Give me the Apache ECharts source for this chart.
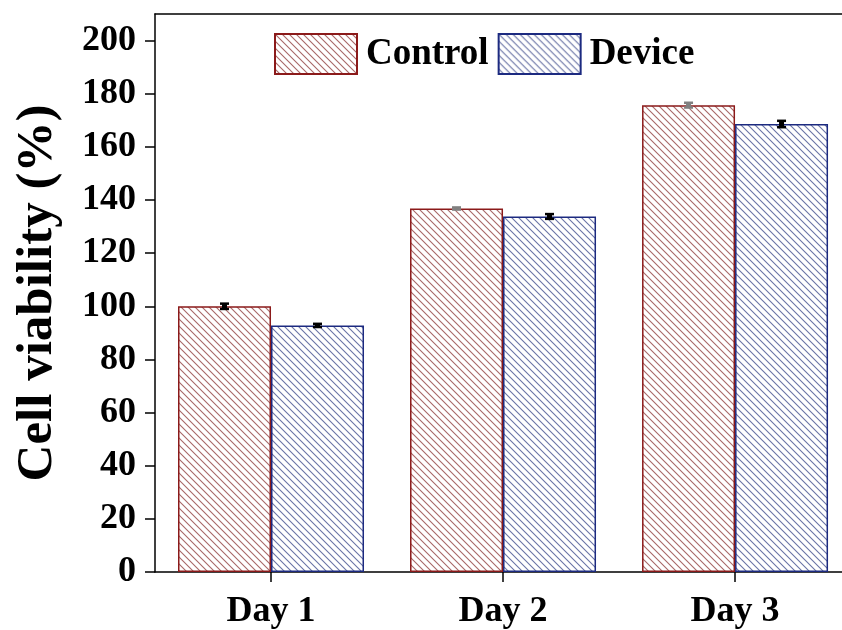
<!DOCTYPE html>
<html><head><meta charset="utf-8">
<script src="https://cdn.jsdelivr.net/npm/echarts@6/dist/echarts.min.js"></script>
<style>html,body{margin:0;padding:0;background:#fff;overflow:hidden}#c{width:842px;height:630px}</style>
</head><body><div id="c"></div>
<script>
const categories = ['Day 1', 'Day 2', 'Day 3'];
const controlValues = [100, 136.8, 175.7];
const deviceValues = [92.8, 133.8, 168.6];
const controlErr = [1.0, 0.4, 0.9];
const deviceErr = [0.6, 0.9, 1.2];
const controlErrColors = ['#000000', '#808080', '#808080'];
const deviceErrColors = ['#000000', '#000000', '#000000'];
const yTicks = [0, 20, 40, 60, 80, 100, 120, 140, 160, 180, 200];

const FONT = '"Liberation Serif", "Times New Roman", serif';
const catIdx = categories.map((c, i) => i);
// x extent: half a category on the left; the right edge of the plot runs off the picture
const X_MIN = -0.5, X_MAX = 2.461;
const BAR_W = 93;

function hatch(lineColor) {
  const c = document.createElement('canvas');
  const s = 7;
  c.width = s; c.height = s;
  const ctx = c.getContext('2d');
  ctx.fillStyle = '#ffffff';
  ctx.fillRect(0, 0, s, s);
  ctx.strokeStyle = lineColor;
  ctx.lineWidth = 1.1;
  ctx.beginPath();
  ctx.moveTo(-1, -1); ctx.lineTo(s + 1, s + 1);
  ctx.moveTo(-1, s - 1); ctx.lineTo(1, s + 1);
  ctx.moveTo(s - 1, -1); ctx.lineTo(s + 1, 1);
  ctx.stroke();
  return { image: c, repeat: 'repeat' };
}

const chart = echarts.init(document.getElementById('c'), null, { renderer: 'canvas' });

function errSeries(name, vals, errs, colors, side) {
  return {
    type: 'custom',
    name: name + ' err',
    z: 10,
    silent: true,
    renderItem: function (params, api) {
      const i = params.dataIndex;
      const x = api.value(0);
      const v = api.value(1), e = api.value(2);
      const cx = api.coord([x, 0])[0] + side * BAR_W / 2;
      const top = api.coord([x, v + e])[1];
      const bot = api.coord([x, v - e])[1];
      const cap = 4.5;
      const col = colors[i];
      return {
        type: 'group',
        children: [
          { type: 'line', shape: { x1: cx, y1: top, x2: cx, y2: bot }, style: { stroke: col, lineWidth: 5 } },
          { type: 'line', shape: { x1: cx - cap, y1: top, x2: cx + cap, y2: top }, style: { stroke: col, lineWidth: 2.5 } },
          { type: 'line', shape: { x1: cx - cap, y1: bot, x2: cx + cap, y2: bot }, style: { stroke: col, lineWidth: 2.5 } }
        ]
      };
    },
    data: vals.map((v, i) => [catIdx[i], v, errs[i]])
  };
}

const option = {
  animation: false,
  backgroundColor: '#ffffff',
  grid: { left: 155, top: 14, right: 0, bottom: 55 },
  legend: {
    left: 274, top: 33,
    padding: 0,
    icon: 'rect',
    itemWidth: 82, itemHeight: 40,
    itemGap: 9,
    data: ['Control', 'Device'],
    textStyle: { fontFamily: FONT, fontWeight: 'bold', fontSize: 37, color: '#000', padding: [0, 0, 0, 4] }
  },
  xAxis: [{
    type: 'value',
    min: X_MIN, max: X_MAX,
    axisLine: { show: true, onZero: false, lineStyle: { color: '#000', width: 1.5 } },
    axisTick: { show: true, length: 10, customValues: catIdx, lineStyle: { color: '#000', width: 1.5 } },
    axisLabel: {
      fontFamily: FONT, fontWeight: 'bold', fontSize: 36, color: '#000', margin: 22,
      customValues: catIdx,
      formatter: function (v) { return categories[Math.round(v)] || ''; }
    },
    splitLine: { show: false }
  }, {
    type: 'value',
    position: 'top',
    min: X_MIN, max: X_MAX,
    axisLine: { show: true, onZero: false, lineStyle: { color: '#000', width: 1.5 } },
    axisTick: { show: false },
    axisLabel: { show: false },
    splitLine: { show: false }
  }],
  yAxis: {
    type: 'value',
    position: 'left',
    min: 0, max: 210, interval: 20,
    name: 'Cell viability (%)',
    nameLocation: 'middle',
    nameGap: 92,
    nameTextStyle: { fontFamily: FONT, fontWeight: 'bold', fontSize: 51, color: '#000' },
    axisLine: { show: true, onZero: false, lineStyle: { color: '#000', width: 1.5 } },
    axisTick: { show: true, length: 10, customValues: yTicks, lineStyle: { color: '#000', width: 1.5 } },
    axisLabel: { fontFamily: FONT, fontWeight: 'bold', fontSize: 36, color: '#000', margin: 19, customValues: yTicks },
    splitLine: { show: false }
  },
  series: [
    {
      name: 'Control', type: 'bar', barWidth: BAR_W, barGap: '0%',
      itemStyle: { color: hatch('#a86868'), borderColor: '#8b1a1a', borderWidth: 1.5 },
      data: controlValues.map((v, i) => [catIdx[i], v])
    },
    {
      name: 'Device', type: 'bar', barWidth: BAR_W, barGap: '0%',
      itemStyle: { color: hatch('#6a74a6'), borderColor: '#1c2a80', borderWidth: 1.5 },
      data: deviceValues.map((v, i) => [catIdx[i], v])
    },
    errSeries('Control', controlValues, controlErr, controlErrColors, -1),
    errSeries('Device', deviceValues, deviceErr, deviceErrColors, 1)
  ]
};
chart.setOption(option);
</script></body></html>
